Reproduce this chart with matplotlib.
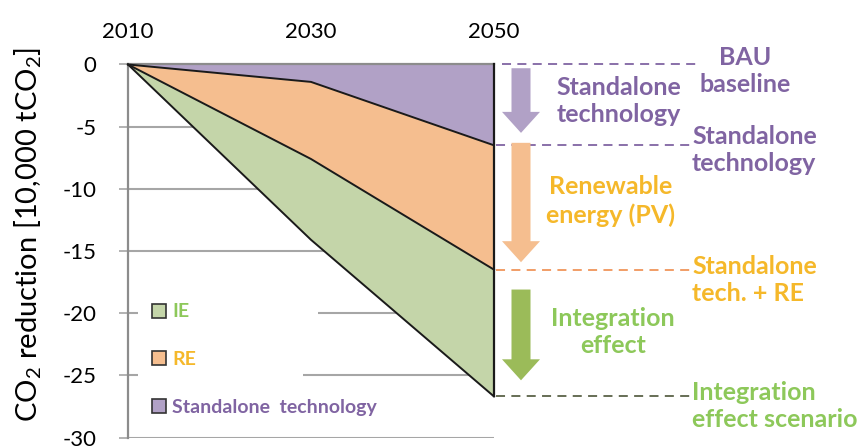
import matplotlib
matplotlib.use("Agg")
import matplotlib.pyplot as plt
from matplotlib.patches import Patch, Polygon, Rectangle
from matplotlib.transforms import blended_transform_factory

plt.rcParams['font.family'] = ['Lato', 'DejaVu Sans']
plt.rcParams['mathtext.fontset'] = 'custom'
plt.rcParams['mathtext.rm'] = 'Lato'
plt.rcParams['mathtext.it'] = 'Lato'
plt.rcParams['axes.unicode_minus'] = False

# ---- data ----
years = [2010, 2030, 2050]
standalone = [0, -1.4, -6.5]      # standalone technology
renewable = [0, -7.6, -16.5]      # standalone tech. + RE
integration = [0, -14.1, -26.7]   # integration effect scenario
yticks = [0, -5, -10, -15, -20, -25, -30]
legend_labels = ['IE', 'RE', 'Standalone  technology']

# ---- colours ----
c_purple = '#B1A1C6'
c_orange = '#F5BE8F'
c_green = '#C4D5A9'
t_purple = '#8064A2'
t_orange = '#F5B82A'
t_green = '#8DC85A'
a_green = '#9BBB59'
grid_c = '#A6A6A6'

W, H = 862, 448
fig = plt.figure(figsize=(W / 100, H / 100), dpi=100)
ax = fig.add_axes([128 / W, 1 - 437.5 / H, (494 - 128) / W, (437.5 - 64.5) / H])

ax.fill_between(years, 0, standalone, color=c_purple, lw=0, zorder=2)
ax.fill_between(years, standalone, renewable, color=c_orange, lw=0, zorder=2)
ax.fill_between(years, renewable, integration, color=c_green, lw=0, zorder=2)
for s in (standalone, renewable, integration):
    ax.plot(years, s, color='#1a1a1a', lw=1.4, zorder=3, clip_on=False)
ax.plot([years[-1], years[-1]], [0, integration[-1]], color='#1a1a1a', lw=1.6, zorder=3, clip_on=False)

ax.set_xlim(years[0], years[-1])
ax.set_ylim(-30, 0)
ax.set_yticks(yticks)
ax.set_xticks(years)
ax.xaxis.tick_top()
ax.tick_params(axis='x', direction='in', length=8, width=1.2, color=grid_c, pad=16, labelsize=16)
ax.tick_params(axis='y', direction='out', length=6.5, width=1.2, color=grid_c, pad=16, labelsize=16)
ax.yaxis.grid(True, color=grid_c, lw=1.5, zorder=0)
ax.set_axisbelow(True)
for sp in ('right', 'bottom'):
    ax.spines[sp].set_visible(False)
for sp in ('left', 'top'):
    ax.spines[sp].set_color('#8C8C8C')
    ax.spines[sp].set_linewidth(1.6)

ax.set_ylabel(r'CO$_2$ reduction [10,000 tCO$_2$]', fontsize=21)
ax.yaxis.label.set_va('center')
ax.yaxis.set_label_coords(-0.272, 0.545)

# white text-box backgrounds behind the legend entries (as in the original)
for (x0, y0, x1, y1) in [(138, 296, 318, 326), (138, 340, 303, 386)]:
    ax.add_patch(Rectangle((x0 / W, 1 - y1 / H), (x1 - x0) / W, (y1 - y0) / H,
                           transform=fig.transFigure, facecolor='white',
                           edgecolor='none', zorder=1))

# legend
handles = [Patch(facecolor=c, edgecolor='#333333', lw=1.2) for c in (c_green, c_orange, c_purple)]
leg = ax.legend(handles, legend_labels, loc='lower left', bbox_to_anchor=(0.044, 0.038),
                borderaxespad=0, frameon=False, handlelength=0.75, handleheight=0.75,
                handletextpad=0.3, labelspacing=1.57, borderpad=0.4,
                prop={'weight': 'bold', 'size': 14},
                labelcolor=[t_green, t_orange, t_purple])
leg.set_zorder(1.5)

# ---- right-hand annotations ----
btf = blended_transform_factory(fig.transFigure, ax.transData)
dash_specs = [
    (0, 502, 698, t_purple),
    (standalone[-1], 496, 690, t_purple),
    (renewable[-1], 496, 690, '#F0955A'),
    (integration[-1], 496, 690, '#5B6248'),
]
for yv, x0, x1, col in dash_specs:
    ax.plot([x0 / W, x1 / W], [yv, yv], transform=btf, color=col, lw=1.3,
            dashes=(5, 3.5), clip_on=False, zorder=4)


def arrow(y_top, y_tip, color, xc=521, body=19, head=38, head_len=21):
    # y values in data coordinates -> pixels
    _, py_top = ax.transData.transform((2010, y_top))
    _, py_tip = ax.transData.transform((2010, y_tip))
    py_neck = py_tip + head_len
    pts_px = [
        (xc - body / 2, py_top),
        (xc + body / 2, py_top),
        (xc + body / 2, py_neck),
        (xc + head / 2, py_neck),
        (xc, py_tip),
        (xc - head / 2, py_neck),
        (xc - body / 2, py_neck),
    ]
    pts = [(x / W, y / fig.dpi / fig.get_figheight()) for x, y in pts_px]
    fig.patches.append(Polygon(pts, closed=True, transform=fig.transFigure,
                               facecolor=color, edgecolor='none', zorder=4))


arrow(-0.3, -5.5, c_purple)
arrow(-6.3, -15.9, c_orange)
arrow(-18.1, -25.4, a_green)

tkw = dict(fontsize=18, fontweight='bold', linespacing=1.25)


def ftext(x, y, s, color, ha='center'):
    fig.text(x / W, 1 - y / H, s, color=color, ha=ha, va='center', **tkw)


ftext(619, 101, 'Standalone\ntechnology', t_purple)
ftext(745, 71, 'BAU\nbaseline', t_purple)
ftext(692, 150, 'Standalone\ntechnology', t_purple, ha='left')
ftext(611, 201, 'Renewable\nenergy (PV)', t_orange)
ftext(692, 280, 'Standalone\ntech. + RE', t_orange, ha='left')
ftext(613, 332, 'Integration\neffect', t_green)
ftext(692, 406, 'Integration\neffect scenario', t_green, ha='left')

fig.savefig('out.png', dpi=100)
